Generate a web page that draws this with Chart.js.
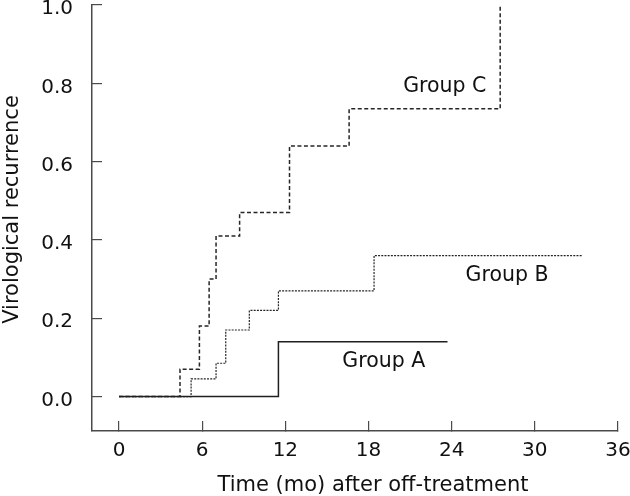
<!DOCTYPE html>
<html>
<head>
<meta charset="utf-8">
<script src="https://cdn.jsdelivr.net/npm/chart.js@4.4.0/dist/chart.umd.min.js"></script>
<style>
  html, body { margin: 0; padding: 0; background: #fff; }
  canvas { display: block; }
</style>
</head>
<body>
<canvas id="recurrenceChart" width="630" height="496"></canvas>
<script>
// Meses tras suspender el tratamiento y recurrencia acumulada
const monthsA = [0, 11.5, 23.7];
const recurrenceA = [0, 0.14, 0.14];

const monthsB = [0, 5.2, 7.0, 7.7, 9.4, 11.5, 18.4, 33.4];
const recurrenceB = [0, 0.045, 0.085, 0.17, 0.22, 0.27, 0.36, 0.36];

const monthsC = [0, 4.4, 5.8, 6.5, 7.0, 8.7, 12.3, 16.6, 27.5];
const recurrenceC = [0, 0.07, 0.18, 0.30, 0.41, 0.47, 0.64, 0.735, 1.0];

const xTickValues = [0, 6, 12, 18, 24, 30, 36];
const yTickValues = [0, 0.2, 0.4, 0.6, 0.8, 1.0];

const groupNames = ['Group A', 'Group B', 'Group C'];
// donde va cada etiqueta, en unidades de los ejes (mes, recurrencia)
const groupLabelAt = [[19.1, 0.075], [28.0, 0.295], [23.5, 0.778]];

const xTitle = 'Time (mo) after off-treatment';
const yTitle = 'Virological recurrence';

const toPoints = (xs, ys) => xs.map((m, i) => ({ x: m, y: ys[i] }));

// Textos: nombres de los grupos y títulos de los ejes
const textPlugin = {
    id: 'textos',
    afterDraw(chart) {
        const { ctx, chartArea, scales: { x, y } } = chart;
        ctx.save();
        ctx.fillStyle = '#111';
        ctx.textAlign = 'center';
        ctx.textBaseline = 'alphabetic';
        ctx.font = '20.5px "DejaVu Sans"';
        groupNames.forEach((name, i) => {
            ctx.fillText(name, x.getPixelForValue(groupLabelAt[i][0]), y.getPixelForValue(groupLabelAt[i][1]));
        });

        ctx.font = '21px "DejaVu Sans"';
        ctx.fillText(xTitle, (chartArea.left + chartArea.right) / 2 + 18, chartArea.bottom + 60);

        ctx.translate(13, (chartArea.top + chartArea.bottom) / 2 - 8.5);
        ctx.rotate(-Math.PI / 2);
        ctx.textBaseline = 'middle';
        ctx.fillText(yTitle, 0, 0);
        ctx.restore();
    }
};

const axisColor = '#4a4a4a';
const tickFont = { family: 'DejaVu Sans', size: 20 };

new Chart(document.getElementById('recurrenceChart').getContext('2d'), {
    type: 'line',
    data: {
        datasets: [{
            label: 'Group A',
            data: toPoints(monthsA, recurrenceA),
            borderColor: '#1f1f1f',
            borderWidth: 1.5,
            stepped: true,
            pointRadius: 0,
            fill: false,
            clip: false
        }, {
            label: 'Group B',
            data: toPoints(monthsB, recurrenceB),
            borderColor: '#262626',
            borderWidth: 1.2,
            borderDash: [2, 1.2],
            stepped: true,
            pointRadius: 0,
            fill: false,
            clip: false
        }, {
            label: 'Group C',
            data: toPoints(monthsC, recurrenceC),
            borderColor: '#262626',
            borderWidth: 1.5,
            borderDash: [4, 2.5],
            stepped: true,
            pointRadius: 0,
            fill: false,
            clip: false
        }]
    },
    options: {
        responsive: false,
        animation: false,
        devicePixelRatio: 1,
        layout: { autoPadding: false, padding: { top: 5, right: 12, bottom: 0, left: 0 } },
        plugins: { legend: { display: false }, tooltip: { enabled: false } },
        scales: {
            x: {
                type: 'linear',
                min: -1.95,
                max: 36,
                afterBuildTicks: s => { s.ticks = xTickValues.map(v => ({ value: v })); },
                afterFit: s => { s.height = 65; s.paddingLeft = 0; s.paddingRight = 0; },
                grid: { drawOnChartArea: false, drawTicks: true, tickLength: -10, color: axisColor, lineWidth: 1.2 },
                border: { color: axisColor, width: 1.5 },
                ticks: { padding: 18, color: '#111', font: tickFont, maxRotation: 0, autoSkip: false }
            },
            y: {
                type: 'linear',
                min: -0.088,
                max: 1.0,
                afterBuildTicks: s => { s.ticks = yTickValues.map(v => ({ value: v })); },
                afterFit: s => { s.width = 92; s.paddingTop = 0; s.paddingBottom = 0; },
                grid: { drawOnChartArea: false, drawTicks: true, tickLength: -10, color: axisColor, lineWidth: 1.2 },
                border: { color: axisColor, width: 1.5 },
                ticks: { padding: 29, labelOffset: 4, color: '#111', font: tickFont, autoSkip: false, callback: v => v.toFixed(1) }
            }
        }
    },
    plugins: [textPlugin]
});
</script>
</body>
</html>
